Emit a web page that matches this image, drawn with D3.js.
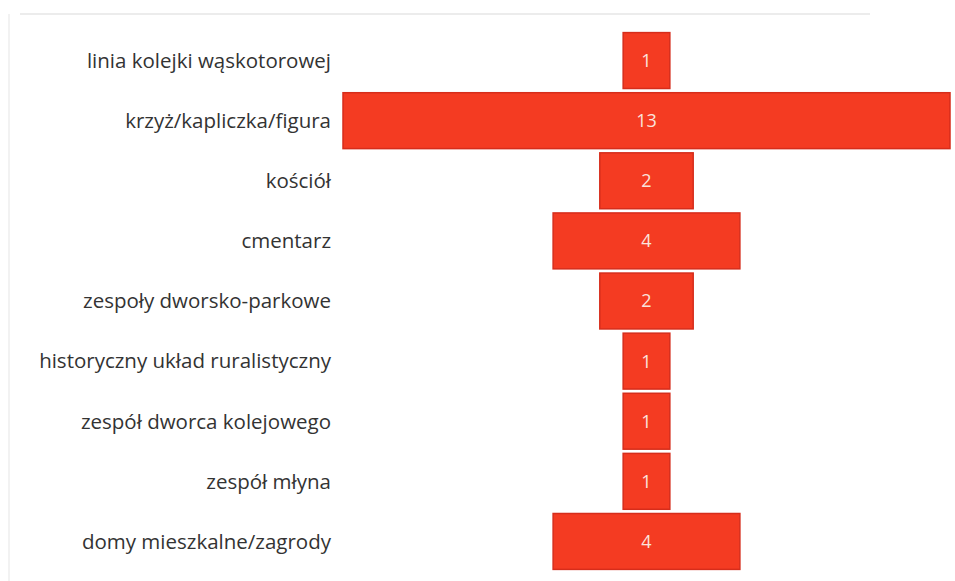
<!DOCTYPE html>
<html lang="pl">

<head>
    <meta charset="utf-8">
    <script src='https://d3js.org/d3.v7.min.js'></script>
    <style>
        body { margin: 0; background: #fff; }
    </style>
</head>

<body>
</body>

<script>

    // categories and counts, top to bottom
    const categories = [
        "linia kolejki wąskotorowej",
        "krzyż/kapliczka/figura",
        "kościół",
        "cmentarz",
        "zespoły dworsko-parkowe",
        "historyczny układ ruralistyczny",
        "zespół dworca kolejowego",
        "zespół młyna",
        "domy mieszkalne/zagrody"
    ];
    const values = [1, 13, 2, 4, 2, 1, 1, 1, 4];

    const width = 955;
    const height = 581;
    const centerX = 646.5;

    var svg = d3.select("body")
                .append("svg")
                .attr("width", width)
                .attr("height", height);

    // faint scan border
    svg.append("line")
        .attr("x1", 20).attr("x2", 870)
        .attr("y1", 14).attr("y2", 14)
        .attr("stroke", "#ececec").attr("stroke-width", 2);
    svg.append("line")
        .attr("x1", 9).attr("x2", 9)
        .attr("y1", 14).attr("y2", 581)
        .attr("stroke", "#f2f2f2").attr("stroke-width", 2);

    var y = d3.scaleBand()
                .domain(categories)
                .range([30.5, 571.5])
                .paddingInner(0.07)
                .paddingOuter(0.035);

    // width scale, bars are centred like a funnel
    var w = d3.scaleLinear()
                .domain([0, 13])
                .range([0, 607]);

    var g = svg.selectAll("g.row")
                .data(categories)
                .enter()
                .append("g")
                .attr("class", "row")
                .attr("transform", function (d) {
                    return "translate(0," + y(d) + ")";
                });

    g.append("rect")
        .attr("x", function (d, i) { return centerX - w(values[i]) / 2; })
        .attr("width", function (d, i) { return w(values[i]); })
        .attr("height", y.bandwidth())
        .attr("fill", "#f43b22")
        .attr("stroke", "#d62d1b")
        .attr("stroke-width", 1.5);

    g.append("text")
        .attr("x", centerX)
        .attr("y", y.bandwidth() / 2)
        .attr("dy", ".36em")
        .style("text-anchor", "middle")
        .style("font-family", "'Open Sans', sans-serif")
        .style("font-size", "18px")
        .style("fill", "#fbe3dc")
        .text(function (d, i) { return values[i]; });

    g.append("text")
        .attr("x", 331)
        .attr("y", y.bandwidth() / 2)
        .attr("dy", ".36em")
        .style("text-anchor", "end")
        .style("font-family", "'Open Sans', sans-serif")
        .style("font-size", "20.5px")
        .style("fill", "#333")
        .text(function (d) { return d; });

</script>

</html>
